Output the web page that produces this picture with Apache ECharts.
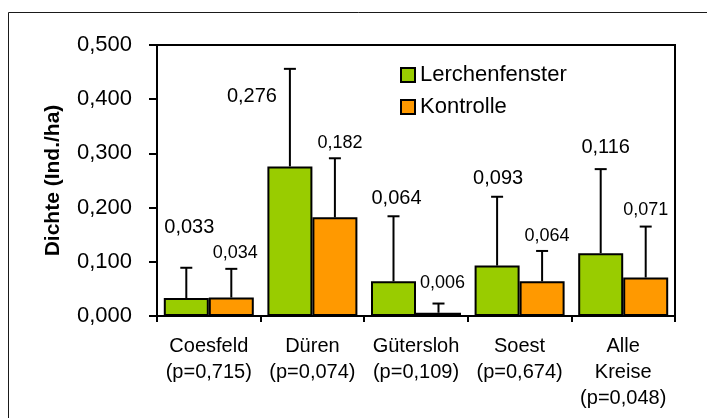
<!DOCTYPE html>
<html>
<head>
<meta charset="utf-8">
<script src="https://cdn.jsdelivr.net/npm/echarts@6/dist/echarts.min.js"></script>
<style>
html,body{margin:0;padding:0;background:#fff;}
#chart{width:707px;height:418px;}
</style>
</head>
<body>
<div id="chart"></div>
<script>
// ---- data ----
const categories = ['Coesfeld\n(p=0,715)', 'Düren\n(p=0,074)', 'Gütersloh\n(p=0,109)', 'Soest\n(p=0,674)', 'Alle\nKreise\n(p=0,048)'];
const seriesNames = ['Lerchenfenster', 'Kontrolle'];
const lerchenfenster = [0.033, 0.276, 0.064, 0.093, 0.116];
const kontrolle = [0.034, 0.182, 0.006, 0.064, 0.071];
const lerchenfensterSD = [0.056, 0.180, 0.120, 0.127, 0.155];
const kontrolleSD = [0.053, 0.109, 0.017, 0.056, 0.094];
const yTicks = [0, 0.1, 0.2, 0.3, 0.4, 0.5];

// ---- layout / style ----
const BAR_W = 45;
const CAP_W = 12;
const GREEN = '#99CC00';
const ORANGE = '#FF9900';
// label offsets (px) relative to the top of each error bar
const labelOffsetGreen = [[3, -40], [-38, 28], [3, -18], [1, -18], [5, -22]];
const labelOffsetOrange = [[4, -16], [5, -15], [4, -21], [5, -15], [0, -17]];

function fmt(v) { return v.toFixed(3).replace('.', ','); }

function errorSeries(name, means, sds, side, offsets, fontSize) {
  return {
    type: 'custom',
    name: name + '_err',
    z: 10,
    data: means.map((m, i) => [i, m, sds[i]]),
    renderItem: function (params, api) {
      const i = api.value(0);
      const m = api.value(1);
      const sd = api.value(2);
      const base = api.coord([i, m]);
      const top = api.coord([i, m + sd]);
      const x = base[0] + side * BAR_W / 2;
      const style = { stroke: '#000', lineWidth: 2 };
      const off = offsets[i];
      return {
        type: 'group',
        children: [
          { type: 'line', shape: { x1: x, y1: base[1], x2: x, y2: top[1] }, style: style },
          { type: 'line', shape: { x1: x - CAP_W / 2, y1: top[1], x2: x + CAP_W / 2, y2: top[1] }, style: style },
          { type: 'text', style: { x: x + off[0], y: top[1] + off[1], text: fmt(m), fill: '#000',
              font: fontSize + 'px "Liberation Sans", Arial, sans-serif', align: 'center', verticalAlign: 'middle' } }
        ]
      };
    }
  };
}

const chart = echarts.init(document.getElementById('chart'));
const FONT = '"Liberation Sans", Arial, sans-serif';
chart.setOption({
  animation: false,
  backgroundColor: '#fff',
  textStyle: { fontFamily: FONT, color: '#000' },
  graphic: [{
    type: 'rect', z: 100, silent: true,
    shape: { x: 8.5, y: 12.5, width: 720, height: 420 },
    style: { fill: 'none', stroke: '#1a1a1a', lineWidth: 1 }
  }],
  grid: { left: 157, top: 45, right: 32, bottom: 102, show: true, borderColor: '#000', borderWidth: 2, backgroundColor: 'transparent' },
  legend: {
    data: seriesNames,
    orient: 'vertical',
    left: 400, top: 64,
    padding: 0,
    itemGap: 10,
    itemWidth: 14, itemHeight: 14,
    icon: 'rect',
    itemStyle: { borderColor: '#000', borderWidth: 2 },
    textStyle: { fontSize: 22, fontFamily: FONT, color: '#000', padding: [0, 0, 0, 0] }
  },
  xAxis: {
    type: 'category',
    data: categories,
    axisLine: { lineStyle: { color: '#000', width: 2 } },
    axisTick: { show: true, length: 6, lineStyle: { color: '#000', width: 2 } },
    axisLabel: { fontSize: 20, lineHeight: 26, color: '#000', margin: 17, interval: 0, fontFamily: FONT }
  },
  yAxis: {
    type: 'value',
    min: yTicks[0], max: yTicks[yTicks.length - 1], interval: 0.1,
    name: 'Dichte (Ind./ha)',
    nameLocation: 'middle',
    nameGap: 93,
    nameTextStyle: { fontSize: 21, fontWeight: 'bold', color: '#000', fontFamily: FONT },
    splitLine: { show: false },
    axisLine: { show: true, lineStyle: { color: '#000', width: 2 } },
    axisTick: { show: true, length: 8, lineStyle: { color: '#000', width: 2 } },
    axisLabel: { fontSize: 22, color: '#000', margin: 25, formatter: fmt, fontFamily: FONT }
  },
  series: [
    { type: 'bar', name: seriesNames[0], data: lerchenfenster, barWidth: BAR_W, barGap: '0%',
      itemStyle: { color: GREEN, borderColor: '#000', borderWidth: 2 } },
    { type: 'bar', name: seriesNames[1], data: kontrolle, barWidth: BAR_W, barGap: '0%',
      itemStyle: { color: ORANGE, borderColor: '#000', borderWidth: 2 } },
    errorSeries(seriesNames[0], lerchenfenster, lerchenfensterSD, -1, labelOffsetGreen, 20),
    errorSeries(seriesNames[1], kontrolle, kontrolleSD, 1, labelOffsetOrange, 18)
  ]
});
</script>
</body>
</html>
